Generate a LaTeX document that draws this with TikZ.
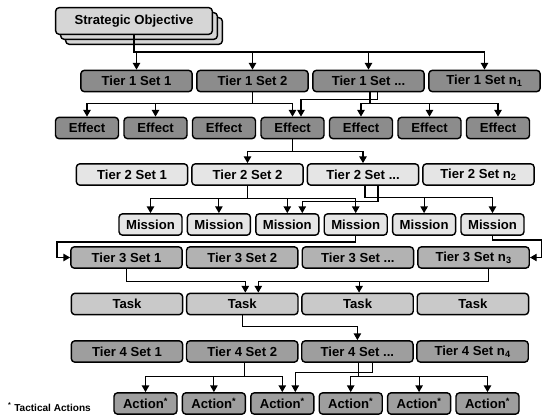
\documentclass[tikz,border=0pt]{standalone}
\usepackage{fontspec}
\setsansfont{Liberation Sans}
\usepackage{tikz}
\usetikzlibrary{positioning,calc,arrows.meta}
\definecolor{sofill}{gray}{0.84}
\definecolor{tierone}{gray}{0.55}
\definecolor{tiertwo}{gray}{0.9}
\definecolor{tierthree}{gray}{0.7}
\definecolor{taskfill}{gray}{0.79}
\definecolor{tierfour}{gray}{0.62}
\newcommand{\etcdots}{...}
\tikzset{
	box/.style args = {#1}{draw=black, line width=1.2pt, rounded corners=3pt, fill=#1,
		inner sep=0pt, minimum height=6.4mm, font=\sffamily\bfseries\fontsize{11.2}{13}\selectfont},
	box/.default = tierone,
	wide/.style = {minimum width=33.4mm},
	small/.style = {minimum width=18.9mm},
	arr/.style = {-{Triangle[length=2mm,width=2.2mm]}, line width=1pt},
}

\begin{document}
\begin{tikzpicture}[x=0.3mm, y=-0.3mm]
				\useasboundingbox (0,0) rectangle (543,418);
				% strategic objective, stacked
				\node[box=sofill, minimum width=47mm, minimum height=8mm] (so3) at (144,31) {};
				\node[box=sofill, minimum width=47mm, minimum height=8mm] (so2) at (139,26) {};
				\node[box=sofill, minimum width=47mm, minimum height=8mm] (so) at (134,21) {Strategic Objective};
				% tier rows
				\foreach \r/\y/\s/\p/\c in {1/81/136.5/116/tierone, 2/174.5/132/115.5/tiertwo,
						3/257.5/126.5/115.7/tierthree, 4/351.5/127/115.2/tierfour} {
					\foreach \lab [count = \i] in {1,2,\etcdots,n\textsubscript{\r}} {
						\node[box=\c, wide] (t\r\i) at ({\s+\p*(\i-1)},\y) {Tier \r\ Set \lab};
					}
				}
				\foreach \i in {1,...,7} {
					\node[box=tierone, small] (e\i) at ({87+68.5*(\i-1)},128) {Effect};
				}
				\foreach \i in {1,...,6} {
					\node[box=tiertwo, small] (m\i) at ({150.5+68.4*(\i-1)},224.5) {Mission};
				}
				\foreach \i in {1,...,4} {
					\node[box=taskfill, wide] (k\i) at ({127+115.3*(\i-1)},304) {Task};
				}
				\foreach \i in {1,...,6} {
					\node[box=tierfour, small] (a\i) at ({145.5+68.4*(\i-1)},403.5) {Action\textsuperscript{*}};
				}
				\node[anchor=west, font=\sffamily\bfseries\fontsize{8.6}{10}\selectfont] (note) at (4,407) {\textsuperscript{*} Tactical Actions};
				\coordinate (lbend) at (57,242);
				\coordinate (rbend) at (541.5,240);
				% connectors
				\foreach \i in {1,...,4} {
					\draw[arr] (so.south) -- ++(0,17) -| (t1\i.north);
				}
				\foreach \j in {1,2,4} {
					\draw[arr] (t12.south) -- ++(0,11) -| (e\j.north);
				}
				\draw[arr] (t13.south) ++(9,0) -- ++(0,7) -| ($(e4.north)+(8.5,0)$);
				\foreach \j in {5,6,7} {
					\draw[arr] (t13.south) ++(1.5,0) -- ++(0,11) -| (e\j.north);
				}
				\foreach \j in {2,3} {
					\draw[arr] (e4.south) -- ++(0,12) -| (t2\j.north);
				}
				\foreach \j in {1,...,4} {
					\draw[arr] (t22.south) -- ++(0,13) -| (m\j.north);
				}
				\foreach \j in {5,6} {
					\draw[arr] (t23.south) ++(2,0) -- ++(0,12) -| (m\j.north);
				}
				\draw[arr] (t23.south) ++(15,0) -- ++(0,16) -| ($(m3.north)+(15,0)$);
				\draw[arr] (m4.south) |- (lbend) |- (t31.west);
				\draw[arr] (m6.south) |- (rbend) |- (t34.east);
				\draw[arr] (t31.south) -- ++(0,13) -| ($(k2.north)+(3,0)$);
				\draw[arr] (t34.south) ++(14.5,0) -- ++(0,13) -| ($(k2.north)+(16,0)$);
				\draw[arr] (t34.south) ++(14.5,0) -- ++(0,13) -| ($(k3.north)+(1.5,0)$);
				\draw[arr] (k2.south) -- ++(0,11) -| (t43.north);
				\foreach \j in {1,2,3} {
					\draw[arr] (t42.south) ++(2,0) -- ++(0,14) -| (a\j.north);
				}
				\draw[arr] (t43.south) ++(15,0) -- ++(0,10) -| ($(a3.north)+(13,0)$);
				\foreach \j in {4,5,6} {
					\draw[arr] (t43.south) ++(1,0) -- ++(0,14) -| (a\j.north);
				}
			\end{tikzpicture}
\end{document}
